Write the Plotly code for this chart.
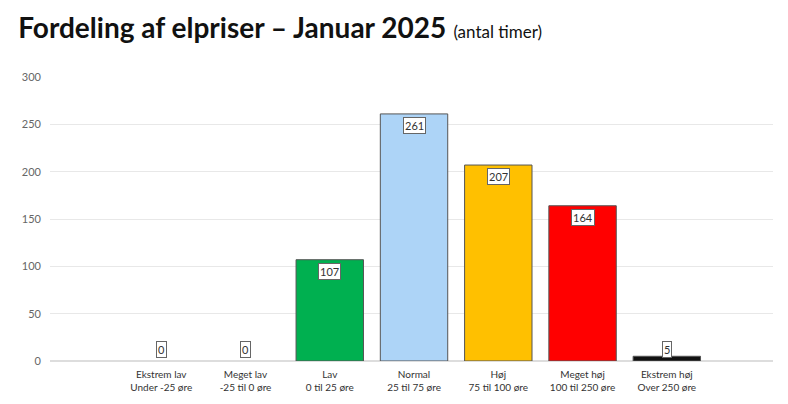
import plotly.graph_objects as go

categories = ["Ekstrem lav<br>Under -25 øre", "Meget lav<br>-25 til 0 øre", "Lav<br>0 til 25 øre",
              "Normal<br>25 til 75 øre", "Høj<br>75 til 100 øre", "Meget høj<br>100 til 250 øre",
              "Ekstrem høj<br>Over 250 øre"]
hours = [0, 0, 107, 261, 207, 164, 5]
colors = ["#cccccc", "#cccccc", "#00b050", "#add4f7", "#ffc000", "#ff0000", "#111111"]

x = list(range(len(categories)))
fig = go.Figure(go.Bar(
    x=x, y=hours, width=0.8,
    marker=dict(color=colors,
                line=dict(color="#555555", width=[0 if v == 0 else 1 for v in hours])),
    hoverinfo="skip",
))

for i, v in enumerate(hours):
    small = v < 20
    fig.add_annotation(
        x=i, y=v if not small else 0,
        text=str(v), showarrow=False,
        yanchor="bottom" if small else "top",
        yshift=3 if small else -3,
        font=dict(family="Lato", size=11, color="#333333"),
        bgcolor="white", bordercolor="#666666", borderwidth=1, borderpad=1,
    )

fig.update_layout(
    width=788, height=404,
    margin=dict(l=42, r=23, t=69, b=51),
    paper_bgcolor="white", plot_bgcolor="white",
    showlegend=False,
    title=dict(
        text="<b>Fordeling af elpriser – Januar 2025</b> <span style='font-size:17px'>(antal timer)</span>",
        x=0.013, xanchor="left", y=0.975, yanchor="top",
        font=dict(family="Lato", size=28, color="#111111"),
    ),
    xaxis=dict(
        tickmode="array", tickvals=x, ticktext=categories,
        range=[-1.32, 7.26], showgrid=False, zeroline=False,
        tickfont=dict(family="Lato", size=10, color="#333333"),
        ticklabelstandoff=6,
    ),
    yaxis=dict(
        range=[0, 300], tickvals=[0, 50, 100, 150, 200, 250, 300],
        gridcolor="#e8e8e8", zeroline=True, zerolinecolor="#dddddd",
        tickfont=dict(family="Lato", size=11, color="#666666"),
        ticklabelstandoff=8,
    ),
)

fig.write_html("out.html")
